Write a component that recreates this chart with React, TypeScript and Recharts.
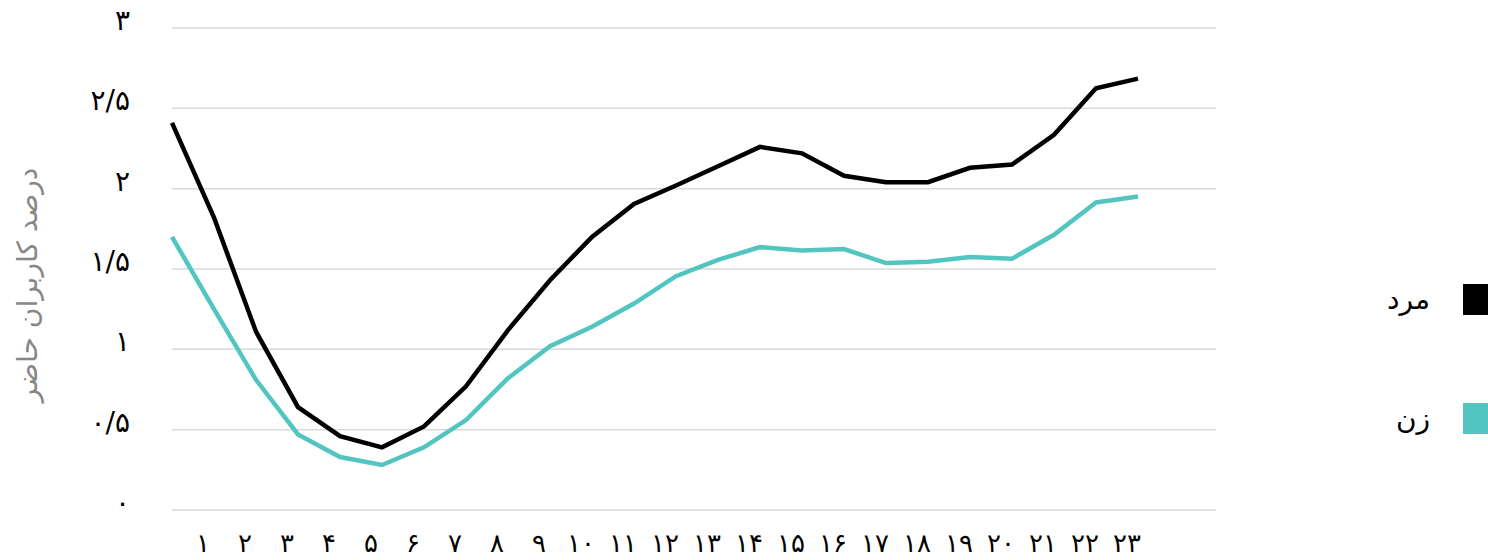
import React from 'react'
import { LineChart, Line, XAxis, YAxis, CartesianGrid } from 'recharts'

// hour of day, 0..23
const hours = [0, 1, 2, 3, 4, 5, 6, 7, 8, 9, 10, 11, 12, 13, 14, 15, 16, 17, 18, 19, 20, 21, 22, 23]

// percent of users online
const maleValues = [
  2.41, 1.82, 1.11, 0.64, 0.46, 0.39, 0.52, 0.77, 1.12, 1.43, 1.70, 1.905,
  2.02, 2.14, 2.26, 2.22, 2.08, 2.04, 2.04, 2.13, 2.15, 2.335, 2.625, 2.685,
]
const femaleValues = [
  1.70, 1.25, 0.81, 0.47, 0.33, 0.28, 0.39, 0.56, 0.82, 1.02, 1.14, 1.285,
  1.455, 1.557, 1.636, 1.615, 1.624, 1.537, 1.545, 1.574, 1.564, 1.713, 1.914, 1.951,
]

const xTickLabels = [
  '', '۱', '۲', '۳', '۴', '۵', '۶', '۷', '۸', '۹', '۱۰', '۱۱',
  '۱۲', '۱۳', '۱۴', '۱۵', '۱۶', '۱۷', '۱۸', '۱۹', '۲۰', '۲۱', '۲۲', '۲۳',
]
const yTicks = [0, 0.5, 1, 1.5, 2, 2.5, 3]
const yTickLabels = ['۰', '۰/۵', '۱', '۱/۵', '۲', '۲/۵', '۳']

const series = [
  { key: 'male', name: 'مرد', color: '#000000' },
  { key: 'female', name: 'زن', color: '#52c5c1' },
]

const data = hours.map((h, i) => ({ hour: h, male: maleValues[i], female: femaleValues[i] }))

const FONT = '"DejaVu Sans", sans-serif'

function XTick({ x, payload }: any) {
  return (
    <text x={x - 11} y={552} textAnchor="middle" fontSize={26} fontFamily={FONT} fill="#000">
      {xTickLabels[payload.index]}
    </text>
  )
}

function YTick({ y, payload }: any) {
  const i = yTicks.indexOf(payload.value)
  return (
    <text x={130} y={y + 2} textAnchor="end" fontSize={28} fontFamily={FONT} fill="#000">
      {yTickLabels[i]}
    </text>
  )
}

function YTitle() {
  return (
    <text
      x={27}
      y={285}
      transform="rotate(-90, 27, 285)"
      textAnchor="middle"
      dominantBaseline="central"
      fontSize={28}
      fontFamily={FONT}
      fill="#878787"
    >
      درصد کاربران حاضر
    </text>
  )
}

export default function App() {
  return (
    <div style={{ position: 'absolute', left: 0, top: 0, width: 1488, height: 560, background: '#fff' }}>
      <LineChart width={1488} height={560} data={data} margin={{ top: 28, right: 272, bottom: 0, left: 0 }}>
        <CartesianGrid vertical={false} stroke="#d9d9d9" strokeWidth={1.5} />
        <XAxis
          dataKey="hour"
          scale="point"
          padding={{ left: 0, right: 78 }}
          height={50}
          axisLine={false}
          tickLine={false}
          interval={0}
          tick={<XTick />}
        />
        <YAxis
          domain={[0, 3]}
          ticks={yTicks}
          width={172}
          axisLine={false}
          tickLine={false}
          tick={<YTick />}
          label={{ content: <YTitle /> }}
        />
        {series.map((s) => (
          <Line
            key={s.key}
            type="linear"
            dataKey={s.key}
            name={s.name}
            stroke={s.color}
            strokeWidth={4.5}
            dot={false}
            isAnimationActive={false}
          />
        ))}
      </LineChart>
      {series.map((s, i) => (
        <div key={s.key} style={{ position: 'absolute', left: 1340, top: 284 + i * 119, width: 148, height: 31 }}>
          <div style={{ position: 'absolute', right: 0, top: 0, width: 25, height: 31, background: s.color }} />
          <div
            style={{
              position: 'absolute', right: 58, top: 0, fontSize: 28, fontFamily: FONT,
              lineHeight: '31px', direction: 'rtl', color: '#000',
            }}
          >
            {s.name}
          </div>
        </div>
      ))}
    </div>
  )
}
